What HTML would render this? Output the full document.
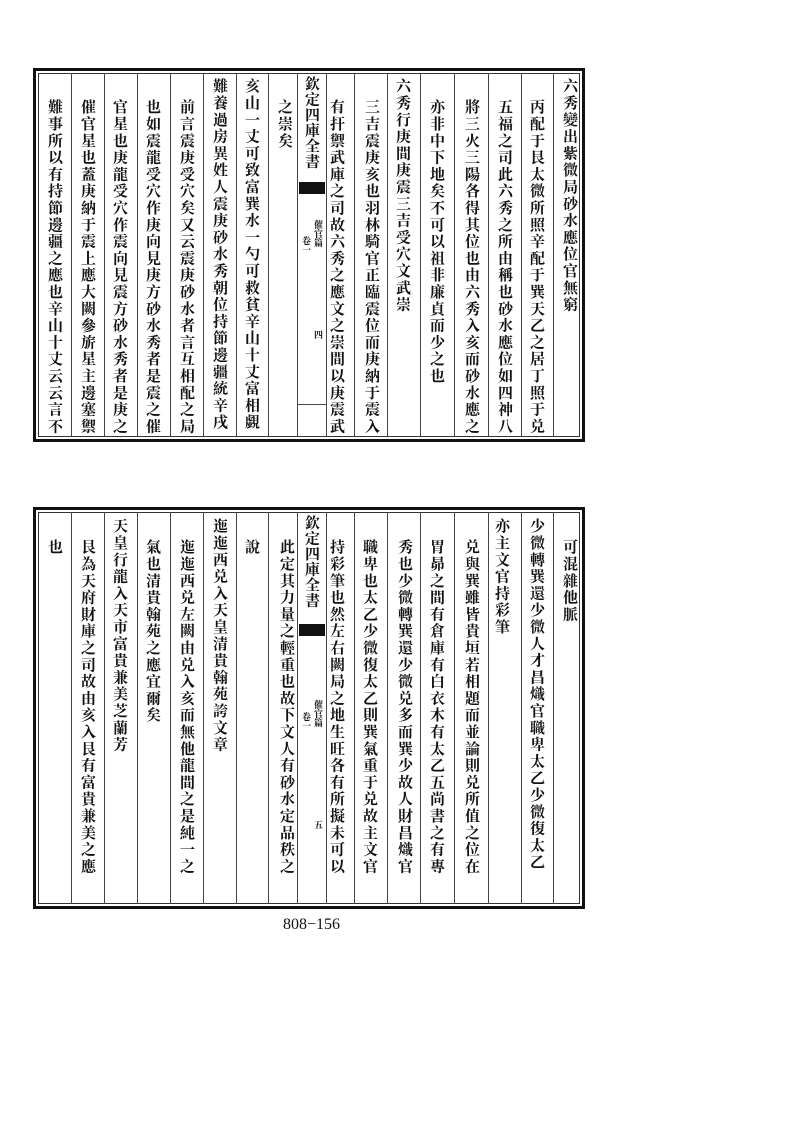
<!DOCTYPE html>
<html><head><meta charset="utf-8">
<style>
body{margin:0;background:#fff;}
#pg{position:relative;width:793px;height:1122px;background:#fff;overflow:hidden;}
.panel{position:absolute;left:33px;width:552px;border:3px solid #111;box-sizing:border-box;}
.inner{position:absolute;left:38px;width:542px;border:1px solid #333;box-sizing:border-box;}
.vl{position:absolute;width:1px;background:#444;}
.c{position:absolute;writing-mode:vertical-rl;font-family:"Noto Serif CJK SC","Noto Sans CJK TC",serif;font-weight:bold;font-size:15px;letter-spacing:1.8px;line-height:20px;color:#111;white-space:nowrap;width:20px;}
.b{position:absolute;writing-mode:vertical-rl;font-family:"Noto Serif CJK SC",serif;font-weight:bold;color:#111;white-space:nowrap;}
.blk{position:absolute;background:#111;}
.pn{position:absolute;left:283px;top:916px;font-family:"Liberation Serif",serif;font-size:16px;color:#111;}
</style></head><body><div id="pg">

<!-- TOP PANEL -->
<div class="panel" style="top:68px;height:374px;"></div>
<div class="inner" style="top:73px;height:364px;"></div>
<div class="vl" style="left:553px;top:73px;height:364px"></div>
<div class="vl" style="left:521px;top:73px;height:364px"></div>
<div class="vl" style="left:488px;top:73px;height:364px"></div>
<div class="vl" style="left:454px;top:73px;height:364px"></div>
<div class="vl" style="left:420px;top:73px;height:364px"></div>
<div class="vl" style="left:387px;top:73px;height:364px"></div>
<div class="vl" style="left:354px;top:73px;height:364px"></div>
<div class="vl" style="left:326px;top:73px;height:364px"></div>
<div class="vl" style="left:297px;top:73px;height:364px"></div>
<div class="vl" style="left:268px;top:73px;height:364px"></div>
<div class="vl" style="left:236px;top:73px;height:364px"></div>
<div class="vl" style="left:203px;top:73px;height:364px"></div>
<div class="vl" style="left:170px;top:73px;height:364px"></div>
<div class="vl" style="left:137px;top:73px;height:364px"></div>
<div class="vl" style="left:104px;top:73px;height:364px"></div>
<div class="vl" style="left:71px;top:73px;height:364px"></div>

<div class="c" style="left:560px;top:78px">六秀變出紫微局砂水應位官無窮</div>
<div class="c" style="left:527px;top:99px">丙配于艮太微所照辛配于巽天乙之居丁照于兑</div>
<div class="c" style="left:495px;top:99px">五福之司此六秀之所由稱也砂水應位如四神八</div>
<div class="c" style="left:462px;top:99px">將三火三陽各得其位也由六秀入亥而砂水應之</div>
<div class="c" style="left:427px;top:99px">亦非中下地矣不可以祖非廉貞而少之也</div>
<div class="c" style="left:393px;top:78px">六秀行庚間庚震三吉受穴文武崇</div>
<div class="c" style="left:362px;top:99px">三吉震庚亥也羽林騎官正臨震位而庚納于震入</div>
<div class="c" style="left:327px;top:99px">有扞禦武庫之司故六秀之應文之崇間以庚震武</div>
<div class="b" style="left:302px;top:76px;font-size:15px;letter-spacing:0.5px;">欽定四庫全書</div>
<div class="blk" style="left:299px;top:182px;width:26px;height:12px;"></div>
<div class="b" style="left:312px;top:220px;font-size:9px;">催官篇</div>
<div class="b" style="left:300px;top:236px;font-size:9px;">卷一</div>
<div class="b" style="left:312px;top:330px;font-size:9px;">四</div>
<div class="vl" style="left:297px;top:404px;width:29px;height:1px"></div>
<div class="c" style="left:275px;top:99px">之崇矣</div>
<div class="c" style="left:242px;top:78px">亥山一丈可致富巽水一勺可救貧辛山十丈富相覷</div>
<div class="c" style="left:210px;top:78px">難養過房異姓人震庚砂水秀朝位持節邊疆統辛戌</div>
<div class="c" style="left:177px;top:99px">前言震庚受穴矣又云震庚砂水者言互相配之局</div>
<div class="c" style="left:143px;top:99px">也如震龍受穴作庚向見庚方砂水秀者是震之催</div>
<div class="c" style="left:110px;top:99px">官星也庚龍受穴作震向見震方砂水秀者是庚之</div>
<div class="c" style="left:78px;top:99px">催官星也蓋庚納于震上應大闕參旂星主邊塞禦</div>
<div class="c" style="left:45px;top:99px">難事所以有持節邊疆之應也辛山十丈云云言不</div>

<!-- BOTTOM PANEL -->
<div class="panel" style="top:507px;height:402px;"></div>
<div class="inner" style="top:512px;height:392px;"></div>
<div class="vl" style="left:553px;top:512px;height:392px"></div>
<div class="vl" style="left:521px;top:512px;height:392px"></div>
<div class="vl" style="left:488px;top:512px;height:392px"></div>
<div class="vl" style="left:454px;top:512px;height:392px"></div>
<div class="vl" style="left:420px;top:512px;height:392px"></div>
<div class="vl" style="left:387px;top:512px;height:392px"></div>
<div class="vl" style="left:354px;top:512px;height:392px"></div>
<div class="vl" style="left:326px;top:512px;height:392px"></div>
<div class="vl" style="left:297px;top:512px;height:392px"></div>
<div class="vl" style="left:268px;top:512px;height:392px"></div>
<div class="vl" style="left:236px;top:512px;height:392px"></div>
<div class="vl" style="left:203px;top:512px;height:392px"></div>
<div class="vl" style="left:170px;top:512px;height:392px"></div>
<div class="vl" style="left:137px;top:512px;height:392px"></div>
<div class="vl" style="left:104px;top:512px;height:392px"></div>
<div class="vl" style="left:71px;top:512px;height:392px"></div>

<div class="c" style="left:560px;top:539px">可混雜他脈</div>
<div class="c" style="left:527px;top:518px">少微轉巽還少微人才昌熾官職卑太乙少微復太乙</div>
<div class="c" style="left:492px;top:518px">亦主文官持彩筆</div>
<div class="c" style="left:462px;top:539px">兑與巽雖皆貴垣若相題而並論則兑所值之位在</div>
<div class="c" style="left:427px;top:539px">胃昴之間有倉庫有白衣木有太乙五尚書之有專</div>
<div class="c" style="left:395px;top:539px">秀也少微轉巽還少微兑多而巽少故人財昌熾官</div>
<div class="c" style="left:360px;top:539px">職卑也太乙少微復太乙則巽氣重于兑故主文官</div>
<div class="c" style="left:327px;top:539px">持彩筆也然左右闕局之地生旺各有所擬未可以</div>
<div class="b" style="left:302px;top:515px;font-size:15px;letter-spacing:0.5px;">欽定四庫全書</div>
<div class="blk" style="left:299px;top:624px;width:26px;height:12px;"></div>
<div class="b" style="left:312px;top:700px;font-size:9px;">催官篇</div>
<div class="b" style="left:300px;top:712px;font-size:9px;">卷一</div>
<div class="b" style="left:312px;top:820px;font-size:9px;">五</div>
<div class="c" style="left:277px;top:539px">此定其力量之輕重也故下文人有砂水定品秩之</div>
<div class="c" style="left:242px;top:539px">說</div>
<div class="c" style="left:210px;top:518px">迤迤西兑入天皇清貴翰苑誇文章</div>
<div class="c" style="left:177px;top:539px">迤迤西兑左闕由兑入亥而無他龍間之是純一之</div>
<div class="c" style="left:143px;top:539px">氣也清貴翰苑之應宜爾矣</div>
<div class="c" style="left:110px;top:518px">天皇行龍入天市富貴兼美芝蘭芳</div>
<div class="c" style="left:78px;top:539px">艮為天府財庫之司故由亥入艮有富貴兼美之應</div>
<div class="c" style="left:45px;top:539px">也</div>

<div class="pn">808−156</div>
</div></body></html>
